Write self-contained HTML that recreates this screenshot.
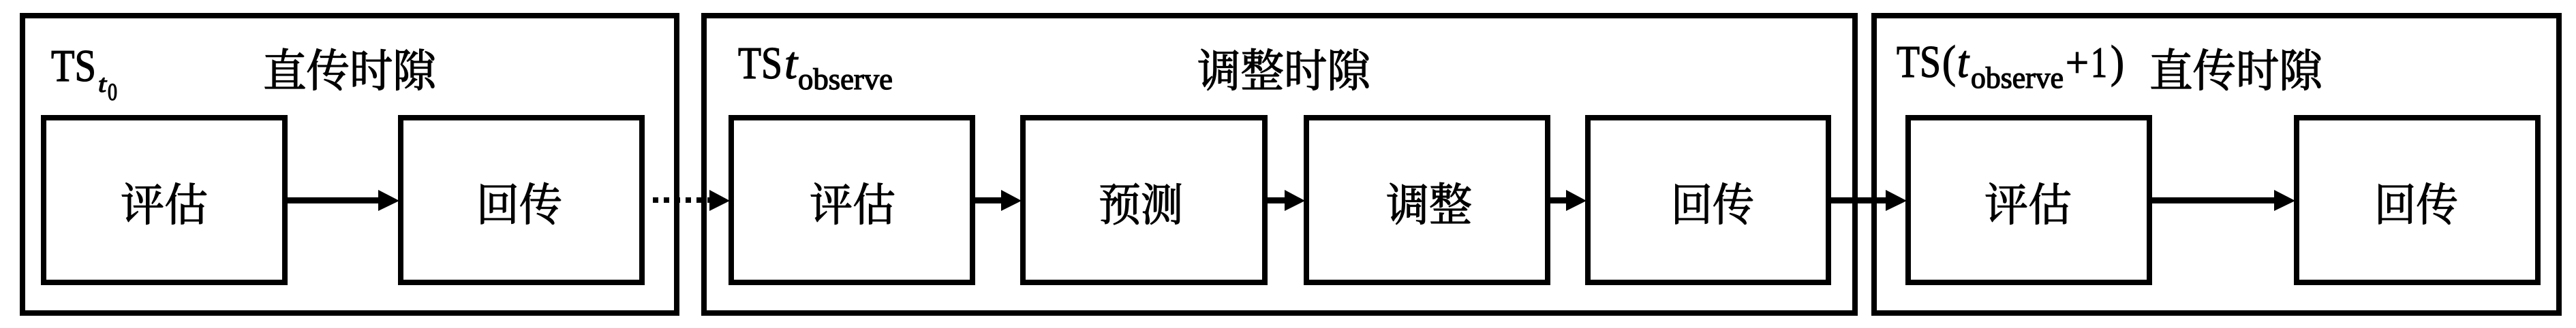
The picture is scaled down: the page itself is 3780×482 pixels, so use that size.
<!DOCTYPE html>
<html lang="zh">
<head>
<meta charset="utf-8">
<style>
html,body{margin:0;padding:0;background:#fff;width:3780px;height:482px;overflow:hidden}
svg{display:block}
.zh{font-family:"Liberation Serif","Noto Serif CJK SC",serif;font-size:66px;fill:#000;stroke:#000;stroke-width:1.3px}
.lat{font-family:"Liberation Serif",serif;fill:#000;stroke:#000;stroke-width:1.3px}
.i{font-style:italic}
</style>
</head>
<body>
<svg width="3780" height="482" viewBox="0 0 3780 482" xmlns="http://www.w3.org/2000/svg">
<rect width="3780" height="482" fill="#fff"/>
<g fill="none" stroke="#000" stroke-width="8">
<rect x="33" y="23" width="960" height="437"/>
<rect x="1033" y="23" width="1689" height="437"/>
<rect x="2750" y="23" width="1005" height="437"/>
<rect x="64" y="173" width="354" height="242"/>
<rect x="588" y="173" width="354" height="242"/>
<rect x="1073" y="173" width="354" height="242"/>
<rect x="1501" y="173" width="355" height="242"/>
<rect x="1917" y="173" width="354" height="242"/>
<rect x="2330" y="173" width="353" height="242"/>
<rect x="2800" y="173" width="354" height="242"/>
<rect x="3370" y="173" width="354" height="242"/>
</g>
<g fill="#000">
<rect x="422" y="290" width="135" height="9"/><polygon points="555,279 586,295 555,310"/>
<rect x="958" y="290" width="8" height="8"/><rect x="974" y="290" width="8" height="8"/>
<rect x="990" y="290" width="8" height="8"/><rect x="1006" y="290" width="8" height="8"/>
<rect x="1022" y="290" width="8" height="8"/><rect x="1038" y="290" width="8" height="8"/>
<polygon points="1041,279 1071,295 1041,310"/>
<rect x="1431" y="290" width="40" height="9"/><polygon points="1469,279 1499,295 1469,310"/>
<rect x="1860" y="290" width="28" height="9"/><polygon points="1885,279 1915,295 1885,310"/>
<rect x="2275" y="290" width="25" height="9"/><polygon points="2298,279 2328,295 2298,310"/>
<rect x="2687" y="290" width="82" height="9"/><polygon points="2767,279 2798,295 2767,310"/>
<rect x="3158" y="290" width="182" height="9"/><polygon points="3337,279 3368,295 3337,310"/>
</g>
<g class="zh">
<text x="386" y="127" textLength="254" lengthAdjust="spacingAndGlyphs">直传时隙</text>
<text x="1757" y="127" textLength="254" lengthAdjust="spacingAndGlyphs">调整时隙</text>
<text x="3154" y="127" textLength="254" lengthAdjust="spacingAndGlyphs">直传时隙</text>
<text x="177" y="324" textLength="128" lengthAdjust="spacingAndGlyphs">评估</text>
<text x="699" y="324" textLength="126" lengthAdjust="spacingAndGlyphs">回传</text>
<text x="1188" y="324" textLength="126" lengthAdjust="spacingAndGlyphs">评估</text>
<text x="1612" y="324" textLength="124" lengthAdjust="spacingAndGlyphs">预测</text>
<text x="2034" y="324" textLength="126" lengthAdjust="spacingAndGlyphs">调整</text>
<text x="2452" y="324" textLength="122" lengthAdjust="spacingAndGlyphs">回传</text>
<text x="2912" y="324" textLength="128" lengthAdjust="spacingAndGlyphs">评估</text>
<text x="3484" y="324" textLength="123" lengthAdjust="spacingAndGlyphs">回传</text>
</g>
<g class="lat">
<text x="75" y="119" font-size="67" textLength="66" lengthAdjust="spacingAndGlyphs">TS</text>
<text x="144" y="135" font-size="36" class="i" textLength="12" lengthAdjust="spacingAndGlyphs">t</text>
<text x="158" y="147" font-size="36" textLength="14" lengthAdjust="spacingAndGlyphs">0</text>
<text x="1083" y="115" font-size="67" textLength="65" lengthAdjust="spacingAndGlyphs">TS</text>
<text x="1151" y="115" font-size="67" class="i" textLength="19" lengthAdjust="spacingAndGlyphs">t</text>
<text x="1171" y="131" font-size="44" textLength="139" lengthAdjust="spacingAndGlyphs">observe</text>
<text x="2783" y="113" font-size="67" textLength="65" lengthAdjust="spacingAndGlyphs">TS</text>
<text x="2850" y="113" font-size="67" textLength="20" lengthAdjust="spacingAndGlyphs">(</text>
<text x="2872" y="113" font-size="67" class="i" textLength="17" lengthAdjust="spacingAndGlyphs">t</text>
<text x="2892" y="129" font-size="44" textLength="136" lengthAdjust="spacingAndGlyphs">observe</text>
<text x="3031" y="113" font-size="64" textLength="34" lengthAdjust="spacingAndGlyphs">+</text>
<text x="3068" y="113" font-size="64" textLength="24" lengthAdjust="spacingAndGlyphs">1</text>
<text x="3097" y="113" font-size="67" textLength="20" lengthAdjust="spacingAndGlyphs">)</text>
</g>
</svg>
</body>
</html>
